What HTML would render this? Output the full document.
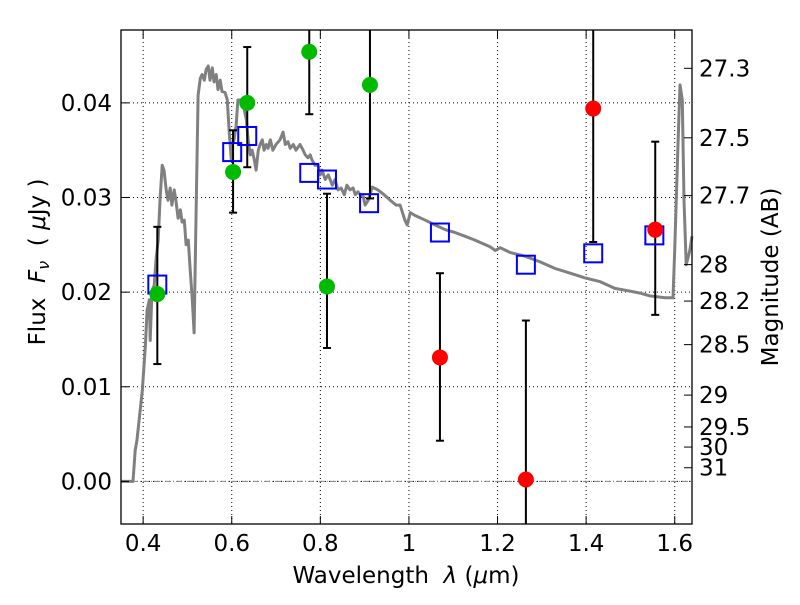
<!DOCTYPE html>
<html><head><meta charset="utf-8"><style>
body{margin:0;background:#fff}
svg text{font-family:"DejaVu Sans","Liberation Sans",sans-serif;fill:#000;white-space:pre}
</style></head><body>
<svg id="chart" width="800" height="600" xmlns="http://www.w3.org/2000/svg">
<rect width="800" height="600" fill="#fff"/>
<g id="grid"></g>
<g id="marks"></g>
<rect x="121" y="30" width="571" height="494" fill="none" stroke="#000" stroke-width="1.3"/>
<g id="axes"></g>
<text x="406" y="583" font-size="23" text-anchor="middle">Wavelength  <tspan font-style="italic">λ</tspan> (<tspan font-style="italic">μ</tspan>m)</text>
<text transform="translate(45,262) rotate(-90)" font-size="23" text-anchor="middle">Flux  <tspan font-style="italic">F</tspan><tspan font-style="italic" font-size="16" dy="4">ν</tspan><tspan dy="-4">  ( </tspan><tspan font-style="italic">μ</tspan>Jy )</text>
<text transform="translate(778,277) rotate(-90)" font-size="23" text-anchor="middle">Magnitude (AB)</text>
</svg>
<script>
const xTicks=[0.4,0.6,0.8,1.0,1.2,1.4,1.6];
const xTickLabels=["0.4","0.6","0.8","1","1.2","1.4","1.6"];
const yTicks=[0,0.01,0.02,0.03,0.04];
const yTickLabels=["0.00","0.01","0.02","0.03","0.04"];
const magTicks=[27.3,27.5,27.7,28,28.2,28.5,29,29.5,30,31];
const magTickLabels=["27.3","27.5","27.7","28","28.2","28.5","29","29.5","30","31"];
const specLam=[0.350,0.377,0.382,0.386,0.398,0.405,0.409,0.414,0.416,0.420,0.425,0.429,0.434,0.438,0.443,0.447,0.452,0.456,0.461,0.465,0.470,0.474,0.479,0.484,0.488,0.493,0.497,0.502,0.506,0.511,0.515,0.520,0.524,0.529,0.533,0.538,0.542,0.547,0.551,0.556,0.560,0.565,0.569,0.574,0.578,0.585,0.590,0.594,0.599,0.601,0.605,0.610,0.614,0.619,0.626,0.633,0.637,0.642,0.646,0.651,0.655,0.660,0.664,0.669,0.673,0.678,0.682,0.687,0.693,0.700,0.709,0.716,0.721,0.727,0.732,0.739,0.745,0.754,0.761,0.766,0.772,0.777,0.781,0.788,0.795,0.800,0.804,0.811,0.818,0.827,0.833,0.840,0.847,0.854,0.860,0.867,0.874,0.879,0.885,0.890,0.897,0.901,0.908,0.917,0.930,0.944,0.958,0.971,0.980,0.991,0.996,1.003,1.014,1.037,1.059,1.082,1.104,1.127,1.149,1.183,1.195,1.206,1.228,1.262,1.296,1.330,1.364,1.398,1.432,1.465,1.488,1.522,1.544,1.578,1.596,1.600,1.607,1.612,1.617,1.621,1.626,1.634,1.639];
const specFlux=[0,0,0.0033,0.0043,0.0096,0.0144,0.0181,0.0192,0.0149,0.0202,0.0207,0.0234,0.0255,0.0297,0.0334,0.0329,0.0308,0.0297,0.0310,0.0292,0.0308,0.0297,0.0278,0.0287,0.0274,0.0276,0.0250,0.0255,0.0225,0.0192,0.0157,0.0297,0.0408,0.0426,0.0430,0.0424,0.0435,0.0439,0.0424,0.0437,0.0422,0.0430,0.0414,0.0424,0.0412,0.0411,0.0403,0.0371,0.0340,0.0356,0.0361,0.0377,0.0403,0.0403,0.0398,0.0382,0.0361,0.0345,0.0350,0.0340,0.0329,0.0350,0.0356,0.0361,0.0350,0.0356,0.0352,0.0361,0.0350,0.0356,0.0361,0.0369,0.0356,0.0359,0.0352,0.0356,0.0350,0.0356,0.0350,0.0345,0.0342,0.0345,0.0340,0.0334,0.0334,0.0324,0.0329,0.0319,0.0324,0.0313,0.0319,0.0308,0.0310,0.0303,0.0313,0.0308,0.0310,0.0303,0.0306,0.0303,0.0301,0.0292,0.0297,0.0311,0.0308,0.0303,0.0297,0.0292,0.0292,0.0276,0.0271,0.0284,0.0281,0.0276,0.0271,0.0266,0.0263,0.0259,0.0255,0.0248,0.0244,0.0247,0.0242,0.0238,0.0232,0.0225,0.0220,0.0215,0.0211,0.0204,0.0202,0.0199,0.0196,0.0194,0.0194,0.0244,0.0350,0.0419,0.0403,0.0297,0.0229,0.0244,0.0259];
const greenLam=[0.432,0.603,0.635,0.775,0.815,0.912];
const greenFlux=[0.0198,0.0327,0.0400,0.0454,0.0206,0.0419];
const greenHi=[0.0269,0.0371,0.0459,0.06,0.0304,0.06];
const greenLo=[0.0124,0.0284,0.0332,0.0388,0.0141,0.0299];
const redLam=[1.070,1.264,1.416,1.556];
const redFlux=[0.0131,0.0002,0.0394,0.0266];
const redHi=[0.0220,0.0170,0.06,0.0359];
const redLo=[0.0043,-0.01,0.0253,0.0176];
const modelLam=[0.432,0.601,0.635,0.775,0.815,0.910,1.070,1.264,1.416,1.554];
const modelFlux=[0.0208,0.0348,0.0365,0.0326,0.0319,0.0294,0.0263,0.0229,0.0241,0.0260];

const L=121,R=692,T=30,B=524,XMIN=0.35,XMAX=1.639,YMIN=-0.0045,YMAX=0.0477;
const sx=v=>L+(v-XMIN)/(XMAX-XMIN)*(R-L);
const sy=v=>B-(v-YMIN)/(YMAX-YMIN)*(B-T);
const cy=v=>Math.max(T,Math.min(B,sy(v)));
const NS="http://www.w3.org/2000/svg";
function mk(tag,attrs,parent){const e=document.createElementNS(NS,tag);for(const k in attrs)e.setAttribute(k,attrs[k]);parent.appendChild(e);return e;}
const grid=document.getElementById('grid'),marks=document.getElementById('marks'),axes=document.getElementById('axes');

xTicks.forEach((t,i)=>{const x=sx(t);
 const g=mk('line',{x1:x,x2:x,y1:T,y2:B,stroke:'#000','stroke-width':1,'stroke-dasharray':'1,3'},grid);
 
 
 mk('line',{x1:x,x2:x,y1:B,y2:B-8,stroke:'#000'},axes);
 mk('line',{x1:x,x2:x,y1:T,y2:T+8,stroke:'#000'},axes);
 const tx=mk('text',{x:x,y:B+27,'font-size':23,'text-anchor':'middle'},axes);tx.textContent=xTickLabels[i];
 
 
});
yTicks.forEach((t,i)=>{const y=sy(t);
 const g=mk('line',{x1:L,x2:R,y1:y,y2:y,stroke:'#000','stroke-width':1,'stroke-dasharray':'1,3'},grid);
 
 
 mk('line',{x1:L,x2:L+8,y1:y,y2:y,stroke:'#000'},axes);
 const tx=mk('text',{x:L-9,y:y+8,'font-size':23,'text-anchor':'end'},axes);tx.textContent=yTickLabels[i];
 
 
});
const zl=mk('line',{x1:L,x2:R,y1:sy(0),y2:sy(0),stroke:'#888','stroke-width':1,'stroke-dasharray':'6,2,1,2'},grid);


magTicks.forEach((m,i)=>{const y=sy(Math.pow(10,(23.9-m)/2.5));
 mk('line',{x1:R,x2:R-8,y1:y,y2:y,stroke:'#000'},axes);
 const tx=mk('text',{x:R+7,y:y+8,'font-size':23},axes);tx.textContent=magTickLabels[i];
 
 
});

let d='';specLam.forEach((l,i)=>{d+=(i?'L':'M')+sx(l).toFixed(1)+','+sy(specFlux[i]).toFixed(1);});
const sp=mk('path',{d:d,fill:'none',stroke:'#808080','stroke-width':3,'stroke-linejoin':'round'},marks);



function errs(lam,hi,lo,name){lam.forEach((l,i)=>{const x=sx(l),y1=cy(hi[i]),y2=cy(lo[i]);
 const e=mk('line',{x1:x,x2:x,y1:y1,y2:y2,stroke:'#000','stroke-width':2},marks);
 
 
 if(y1>T)mk('line',{x1:x-4,x2:x+4,y1:y1,y2:y1,stroke:'#000','stroke-width':2},marks);
 if(y2<B)mk('line',{x1:x-4,x2:x+4,y1:y2,y2:y2,stroke:'#000','stroke-width':2},marks);
});}
errs(greenLam,greenHi,greenLo,'green-error-bar');
errs(redLam,redHi,redLo,'red-error-bar');
modelLam.forEach((l,i)=>{
 const s=mk('rect',{x:sx(l)-9,y:sy(modelFlux[i])-9,width:18,height:18,fill:'none',stroke:'#0000ff','stroke-width':2},marks);
 
 
});
greenLam.forEach((l,i)=>{
 const c=mk('circle',{cx:sx(l),cy:sy(greenFlux[i]),r:8,fill:'#00bb00'},marks);
 
 
});
redLam.forEach((l,i)=>{
 const c=mk('circle',{cx:sx(l),cy:sy(redFlux[i]),r:8,fill:'#ff0000'},marks);
 
 
});
</script>
</body></html>
